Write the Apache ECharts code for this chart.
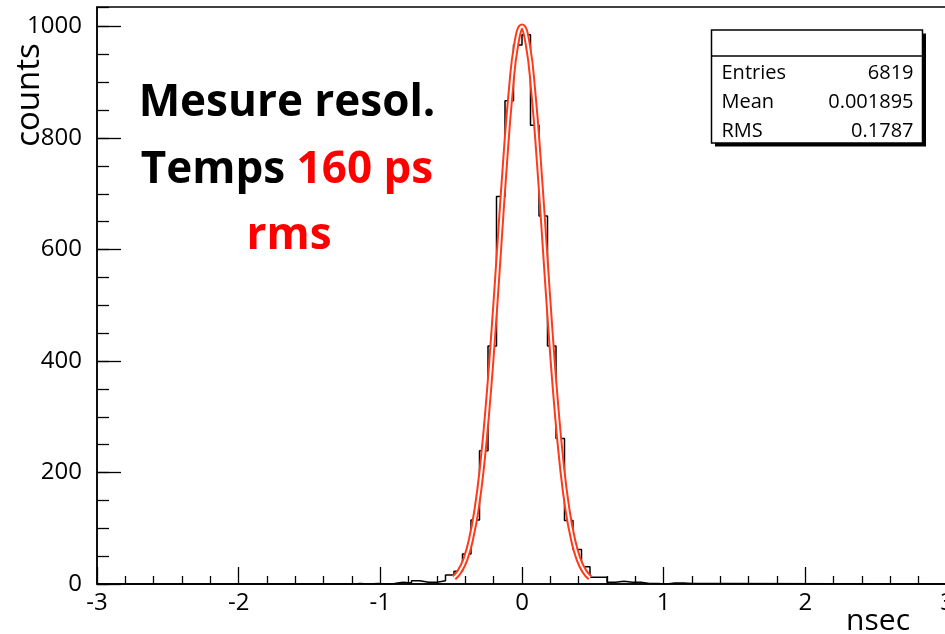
<!DOCTYPE html>
<html>
<head>
<meta charset="utf-8">
<script src="https://cdn.jsdelivr.net/npm/echarts@6/dist/echarts.min.js"></script>
<style>
html,body{margin:0;padding:0;background:#fff;}
#chart{width:945px;height:634px;}
</style>
</head>
<body>
<div id="chart"></div>
<script>
// ---- data ----
const binWidth = 0.06;          // ns (100 bins over [-3,3])
const firstBinLow = -1.20;      // low edge of first listed bin
const binCounts = [
  1, 0, 1, 0, 1, 3, 2, 6, 3, 3,                 // -1.20 .. -0.60
  6, 16, 23, 54, 115, 239, 427, 695, 867, 967,  // -0.60 .. 0.00
  985, 823, 660, 427, 261, 114, 62, 31, 12, 12, // 0.00 .. 0.60
  3, 5, 3, 3, 1, 1, 0, 2, 2, 1, 1, 1, 1, 1      // 0.60 .. 1.44
];
const fitX = [-0.48,-0.44,-0.40,-0.36,-0.32,-0.28,-0.24,-0.20,-0.16,-0.12,-0.08,-0.04,0.00,
              0.04,0.08,0.12,0.16,0.20,0.24,0.28,0.32,0.36,0.40,0.44,0.48];
const fitY = [11,23,44,80,135,216,325,458,607,755,882,969,1000,
              969,882,755,607,458,325,216,135,80,44,23,11];
const statsLabels = ['Entries','Mean','RMS'];
const statsValues = ['6819','0.001895','0.1787'];
const xTitle = 'nsec';
const yTitle = 'counts';

// ---- build series ----
const histData = [[-3, 0], [firstBinLow, 0]];
binCounts.forEach((c, i) => {
  histData.push([+(firstBinLow + i * binWidth).toFixed(2), c]);
});
const lastEdge = +(firstBinLow + binCounts.length * binWidth).toFixed(2);
histData.push([lastEdge, 0]);
histData.push([3, 0]);
const fitData = fitX.map((x, i) => [x, fitY[i]]);

const FONT = '"Open Sans", sans-serif';
const chart = echarts.init(document.getElementById('chart'), null, {renderer: 'canvas'});

const statsTop = 30, statsLeft = 711.5, statsW = 211, statsH = 113;
const statsGraphics = [
  {type:'rect', shape:{x:statsLeft+3.5, y:statsTop+3.5, width:statsW, height:statsH}, style:{fill:'#000'}},
  {type:'rect', shape:{x:statsLeft, y:statsTop, width:statsW, height:statsH}, style:{fill:'#fff', stroke:'#000', lineWidth:1.5}},
  {type:'line', shape:{x1:statsLeft, y1:56, x2:statsLeft+statsW, y2:56}, style:{stroke:'#000', lineWidth:1.5}}
];
statsLabels.forEach((lab, i) => {
  const y = 73 + i * 29;
  statsGraphics.push({type:'text', x:statsLeft+10, y:y, style:{text:lab, fill:'#000', font:'20px ' + FONT, textAlign:'left', textVerticalAlign:'middle'}});
  statsGraphics.push({type:'text', x:statsLeft+202, y:y, style:{text:statsValues[i], fill:'#000', font:'20px ' + FONT, textAlign:'right', textVerticalAlign:'middle'}});
});

const option = {
  backgroundColor: '#fff',
  animation: false,
  grid: {left: 97, width: 850, top: 7, bottom: 50, show: true, borderColor: '#000', borderWidth: 1.5,
         containLabel: false, outerBoundsMode: 'none'},
  xAxis: {
    type: 'value', min: -3, max: 3, interval: 1,
    axisLine: {show: true, onZero: false, lineStyle: {color: '#000', width: 1.5}},
    axisTick: {show: true, inside: true, length: 17, lineStyle: {color: '#000', width: 1.3}},
    minorTick: {show: true, splitNumber: 5, length: 8, lineStyle: {color: '#000', width: 1.3}},
    splitLine: {show: false},
    axisLabel: {color: '#000', fontSize: 24, fontFamily: FONT, margin: 7, showMaxLabel: true, hideOverlap: false, formatter: v => String(v)}
  },
  yAxis: [{
    type: 'value', min: 0, max: 1035, interval: 200,
    axisLine: {show: true, onZero: false, lineStyle: {color: '#000', width: 1.5}},
    axisTick: {show: true, inside: true, length: 24, lineStyle: {color: '#000', width: 1.3}},
    splitLine: {show: false},
    axisLabel: {color: '#000', fontSize: 24, fontFamily: FONT, margin: 15, showMaxLabel: false, formatter: v => String(v)}
  }, {
    type: 'value', min: 0, max: 1035, interval: 50, position: 'left',
    axisLine: {show: false, onZero: false},
    axisTick: {show: true, inside: true, length: 12, lineStyle: {color: '#000', width: 1.3}},
    splitLine: {show: false},
    axisLabel: {show: false}
  }],
  series: [{
    name: 'hist', type: 'line', step: 'end', data: histData, yAxisIndex: 0,
    symbol: 'none', lineStyle: {color: '#000', width: 1.5}, z: 2
  }, {
    name: 'fit', type: 'line', smooth: true, data: fitData, yAxisIndex: 0,
    symbol: 'none', lineStyle: {color: '#ff3a1a', width: 6}, z: 3
  }, {
    name: 'fitcore', type: 'line', smooth: true, data: fitData, yAxisIndex: 0,
    symbol: 'none', lineStyle: {color: '#ffffff', width: 2}, z: 4
  }],
  graphic: [
    {type:'text', x:30, y:95, rotation: Math.PI/2, style:{text:yTitle, fill:'#000', font:'33px ' + FONT, textAlign:'center', textVerticalAlign:'middle'}},
    {type:'text', x:910, y:621, style:{text:xTitle, fill:'#000', font:'30px ' + FONT, textAlign:'right', textVerticalAlign:'middle'}},
    {type:'text', x:287, y:103, style:{text:'Mesure resol.', fill:'#000', font:'bold 44px ' + FONT, textAlign:'center', textVerticalAlign:'middle'}},
    {type:'text', x:287, y:170, style:{
      text:'{b|Temps }{r|160 ps}', textAlign:'center', textVerticalAlign:'middle',
      rich:{b:{fill:'#000', font:'bold 44px ' + FONT}, r:{fill:'#ff0000', font:'bold 44px ' + FONT}}
    }},
    {type:'text', x:289, y:236, style:{text:'rms', fill:'#ff0000', font:'bold 44px ' + FONT, textAlign:'center', textVerticalAlign:'middle'}},
    ...statsGraphics
  ]
};
chart.setOption(option);
</script>
</body>
</html>
